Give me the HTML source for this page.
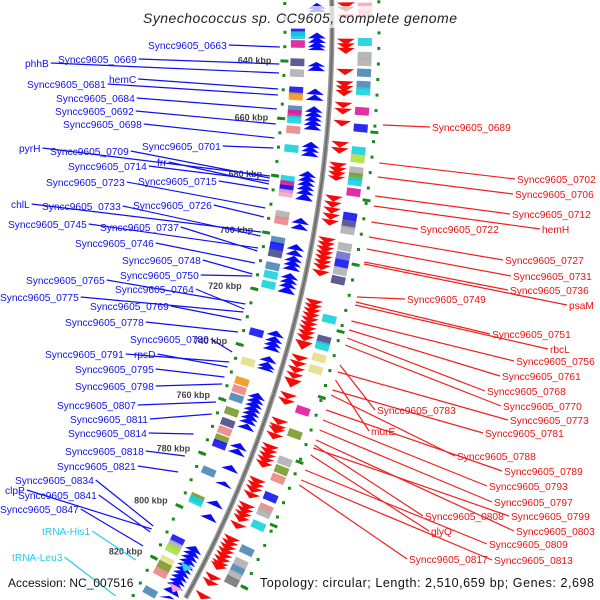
<!DOCTYPE html>
<html><head><meta charset="utf-8"><style>
html,body{margin:0;padding:0;background:#fff;overflow:hidden;width:600px;height:600px;}
svg{display:block;font-family:"Liberation Sans","DejaVu Sans",sans-serif;overflow:hidden;}
</style></head><body>
<svg id="map" width="600" height="600" viewBox="0 0 600 600" xmlns="http://www.w3.org/2000/svg">
<g id="rings"></g>
<g id="leaders"></g>
<g id="labels"></g>
<rect x="140" y="6" width="322" height="22" fill="#fff" opacity="0.72"/>
<text x="300" y="23" text-anchor="middle" font-size="14" font-style="italic" fill="#222" textLength="314">Synechococcus sp. CC9605, complete genome</text>
<text x="8" y="587" font-size="12" fill="#111">Accession: NC_007516</text>
<text x="260" y="587" font-size="12.5" fill="#111" textLength="334">Topology: circular; Length: 2,510,659 bp; Genes: 2,698</text>
</svg>
<script>
// ---- data (kbp) ----
const tickKbp = [640,660,680,700,720,740,760,780,800,820];
const outerDashKbp = [662,684,705,727,749,771,793,815,837];
const blueGeneStart = [620,621.5,630,631.5,633,634.5,640,641,649,651,655,656.5,658,659.5,661,667,668.5,670,677,678.5,680,681.5,683,684.5,693,695,702,704,706,707.5,709,712,713.5,715,716.5,732,734,735.5,737,741,743,744.5,754,755.5,757,758.5,760,761.5,763,765,772,774,780,786,793,798,810,811.5,813,814.5,816,817.5,819,820.5,822,823.5,825,829,830.5,832,833.5,835];
const blueGeneEnd   = [622,623,632,633.5,635,636,641.5,643,651,653,657,658.5,660,661.5,663,669,670.5,672,679,680.5,682,683.5,685,687,695,697,704,706,708,709.5,711,714,715.5,717,719,734,736,737.5,739,743,745,746,756,757.5,759,760.5,762,763.5,765,767,774,776,782,787.5,795,800,812,813.5,815,816.5,818,819.5,821,822.5,824,825.5,828,831,832.5,834,835.5,838];
const redGeneStart = [620,621.5,624,632,633.5,635,642,646,647.5,649,653,655,659,666,668,673,674.5,676,677.5,684,686,688,690,692,698,699.5,701,702.5,704,705.5,707,709,719,720.5,722,723.5,725,726.5,728,729.5,731,733,738,740,742,744,746,751,753,760,762,763,765,769,770.5,772,773.5,775,781,782.5,784,786,790,791.5,793,794.5,797,802,803.5,805,806.5,808,809.5,811,812,816,818,823,832,834,836];
const redGeneEnd   = [622,623,625.5,634,635.5,637,644,648,649.5,651,655,657,661,668,670,675,676.5,678,679,686,688,690,692,694,700,701.5,703,704.5,706,707.5,709,711,721,722.5,724,725.5,727,728.5,730,731.5,733,736,740,742,744,746,749,753,755,762,764,765,767,771,772.5,774,775.5,777,783,784.5,786,788,792,793.5,795,796.5,799,804,805.5,807,808.5,810,811.5,813,814,818,820,825,834,836,838];
const blueBoxKbp = [630,631,634,640.3,644,650,652,656.5,658,660,663.5,670,680.7,682.5,684,685.5,693,695,702,704,706.5,711,714,717.5,734.5,745,752,755,758,763,767,770,773,775,785,795,796,811,813,814.5,819,821,823.5,831,833];
const blueBoxColor = ["blue","cyan","magenta","slate","gray","blue","orange","steel","magenta","cyan","salmon","cyan","cyan","magenta","blue","pink","gray","salmon","steel","blue","slate","steel","cyan","cyan","blue","khaki","orange","salmon","steel","olive","slate","salmon","olive","blue","steel","olive","cyan","blue","gray","yellowgreen","khaki","olive","salmon","steel","blue"];
const redBoxKbp = [621.5,624,633,637.5,639.5,643,647,649,655.5,661,668.4,671,675,677,678.5,682,690,692.6,694.5,700,703,705.5,708,711,724,731,733,737,741,755,763,772.5,775.5,778.5,785,789,790.5,795,804,808.5,811,813,815,821,828,834];
const redBoxColor = ["pink","salmon","cyan","gray","gray","steel","steel","cyan","magenta","blue","cyan","yellowgreen","gray","olive","cyan","magenta","blue","slate","gray","gray","slateblue","blue","gray","slate","cyan","slate","cyan","khaki","khaki","magenta","olive","gray","olive","salmon","blue","salmon","gray","cyan","steel","gray","steel","gray","dimgray","olive","blue","olive"];
const rnaKbp = [818,826];
const rnaColor = ["#33ccee","#f4a0d0"];

// ---- geometry ----
const CX=-863, CY=25, R=1195;
const COLORS={blue:"#1414f0",cyan:"#18d2dc",magenta:"#e0189a",slate:"#4a4a8c",gray:"#b0b0b0",orange:"#f0961a",steel:"#4a86b8",salmon:"#ea8686",khaki:"#e4de8a",olive:"#7a9a2a",yellowgreen:"#a8e040",dimgray:"#777",pink:"#f6a6c6",slateblue:"#7070d0"};
function ang(k){return 0.0314+(k-640)*0.002506;}
function pt(k,r){const a=ang(k);return [CX+r*Math.cos(a), CY+r*Math.sin(a)];}
function ringX(y,r){return CX+Math.sqrt(r*r-(y-CY)*(y-CY));}
function inView(k,r){const p=pt(k,r);return p[1]>=-5 && p[1]<=598;}
const NS="http://www.w3.org/2000/svg";
const rings=document.getElementById('rings');
function mk(tag,attrs,parent){const e=document.createElementNS(NS,tag);for(const k in attrs)e.setAttribute(k,attrs[k]);(parent||rings).appendChild(e);return e;}
function P(a){return a.map(p=>p[0].toFixed(1)+","+(p[1]>0?Math.min(599.5,p[1]):p[1]).toFixed(1)).join(" ");}

// backbone
let d="",first=true;for(let k=612;k<=840;k+=1){if(!inView(k,R))continue;const p=pt(k,R);d+=(first?"M":"L")+p[0].toFixed(1)+","+p[1].toFixed(1);first=false;}
let bb=mk('path',{d:d,stroke:"#9a9a9a","stroke-width":5,fill:"none"});


let bb2=mk('path',{d:d,stroke:"#6e6e6e","stroke-width":2,fill:"none"});



// green dot rings
for(let k=615;k<=845;k+=5){
  [R-47,R+47].forEach((r,i)=>{if(!inView(k,r))return;const p=pt(k,r);
    const dot=mk('rect',{x:(p[0]-1.5).toFixed(1),y:(p[1]-1.5).toFixed(1),width:3,height:3,fill:"#1a8a1a"});
    
    });
}
tickKbp.forEach(k=>{
  if(!inView(k,R-47))return;
  const a=pt(k,R-51),b=pt(k,R-43);
  const t=mk('line',{x1:a[0],y1:a[1],x2:b[0],y2:b[1],stroke:"#1a8a1a","stroke-width":3});
  
  
  const q=pt(k,R-60);
  const lb=mk('text',{x:q[0].toFixed(1),y:(q[1]+3).toFixed(1),"text-anchor":"end","font-size":"9","font-weight":"bold",fill:"#444"});
  lb.textContent=k+" kbp";
  
  
});
outerDashKbp.forEach(k=>{
  if(!inView(k,R+47))return;
  const a=pt(k,R+43),b=pt(k,R+51);
  const t=mk('line',{x1:a[0],y1:a[1],x2:b[0],y2:b[1],stroke:"#1a8a1a","stroke-width":3});
  
  
});

// boxes
function box(k,r1,r2,col,name){
  const s=k-1.3,e=k+1.3;
  if(!inView(e,(r1+r2)/2))return;
  const b=mk('polygon',{points:P([pt(s,r1),pt(e,r1),pt(e,r2),pt(s,r2)]),fill:col,opacity:0.9});
  
  
}
blueBoxKbp.forEach((k,i)=>box(k,R-41,R-27,COLORS[blueBoxColor[i]],'reverse-strand-feature-box'));
redBoxKbp.forEach((k,i)=>box(k,R+26,R+40,COLORS[redBoxColor[i]],'forward-strand-feature-box'));

// genes (arrows)
blueGeneStart.forEach((s,i)=>{
  const e=blueGeneEnd[i];
  if(!inView(s,R-15))return;
  const g=mk('polygon',{points:P([pt(s,R-15),pt(e,R-24),pt(e,R-6)]),fill:"#0a0af5"});
  
  
});
redGeneStart.forEach((s,i)=>{
  const e=redGeneEnd[i];
  if(!inView(s,R+14))return;
  const g=mk('polygon',{points:P([pt(s,R+5),pt(s,R+23),pt(e,R+14)]),fill:"#f50a0a"});
  
  
});
rnaKbp.forEach((k,i)=>{
  if(!inView(k+1.5,R-14))return;
  const g=mk('polygon',{points:P([pt(k-1,R-21),pt(k-1,R-7),pt(k+1.5,R-14)]),fill:rnaColor[i]});
  
  
});

// ---- labels (layout annotations) ----
const leftLabels=[
["Syncc9605_0663",148,49,47],["phhB",25,67,73],["Syncc9605_0669",58,63,64],["Syncc9605_0681",27,88,95],["hemC",109,83,89],
["Syncc9605_0684",56,102,109],["Syncc9605_0692",55,115,124],["Syncc9605_0698",63,128,138],["Syncc9605_0701",142,150,148],
["pyrH",19,152,176],["Syncc9605_0709",50,155,178],["Syncc9605_0714",68,170,181],["frr",157,166,184],["Syncc9605_0723",46,186,208],
["Syncc9605_0715",138,185,189],["chlL",11,208,232],["Syncc9605_0733",42,210,236],["Syncc9605_0726",133,209,217],
["Syncc9605_0745",8,228,248],["Syncc9605_0737",100,231,251],["Syncc9605_0746",75,247,263],["Syncc9605_0748",122,264,274],
["Syncc9605_0750",120,279,276],["Syncc9605_0765",26,284,304],["Syncc9605_0764",115,293,309],["Syncc9605_0775",0,301,312],
["Syncc9605_0769",90,310,320],["Syncc9605_0778",65,326,332],["Syncc9605_0780",130,343,352],["Syncc9605_0791",45,358,362],
["rpsD",134,358,367],["Syncc9605_0795",75,373,377],["Syncc9605_0798",75,390,384],["Syncc9605_0807",57,409,402],
["Syncc9605_0811",70,423,414],["Syncc9605_0814",68,437,434],["Syncc9605_0818",65,455,456],["Syncc9605_0821",57,470,472],
["Syncc9605_0834",15,484,526],["clpP",5,494,529],["Syncc9605_0841",18,499,532],["Syncc9605_0847",0,513,546],
["tRNA-His1",42,535,560],["tRNA-Leu3",12,561,596]];
const rightLabels=[
["Syncc9605_0689",432,131,125],["Syncc9605_0702",517,183,163],["Syncc9605_0706",515,198,177],["Syncc9605_0712",512,218,196],
["Syncc9605_0722",420,233,222],["hemH",542,233,206],["Syncc9605_0727",505,264,237],["Syncc9605_0731",513,280,249],
["Syncc9605_0736",510,294,262],["psaM",569,309,264],["Syncc9605_0749",407,303,297],["Syncc9605_0751",492,338,302],
["rbcL",550,353,305],["Syncc9605_0756",516,365,321],["Syncc9605_0761",502,380,330],["Syncc9605_0768",487,395,338],
["Syncc9605_0770",503,410,345],["Syncc9605_0783",377,414,365],["Syncc9605_0773",510,424,372],["murE",371,435,380],
["Syncc9605_0781",485,437,390],["Syncc9605_0788",457,460,395],["Syncc9605_0789",504,475,410],["Syncc9605_0793",489,490,420],
["Syncc9605_0797",494,506,430],["Syncc9605_0808",425,520,445],["Syncc9605_0799",511,520,448],["glyQ",431,535,455],
["Syncc9605_0803",516,535,440],["Syncc9605_0809",489,548,470],["Syncc9605_0817",409,563,485],["Syncc9605_0813",494,564,480]];
const labG=document.getElementById('labels'), leadG=document.getElementById('leaders');
leftLabels.forEach(L=>{
  const rna=L[0].startsWith("tRNA");
  const col=rna?"#22ccee":"#1010ee";
  const t=mk('text',{x:L[1],y:L[2],"font-size":"10.2",fill:col},labG);
  t.textContent=L[0];
  
  
  const w=t.getComputedTextLength();
  const r=L[3]>420?R-62:R-52;
  const ln=mk('line',{x1:L[1]+w+2,y1:L[2]-4,x2:ringX(L[3],r).toFixed(1),y2:L[3],stroke:col,"stroke-width":1.2},leadG);
  
  
});
rightLabels.forEach(L=>{
  const t=mk('text',{x:L[1],y:L[2],"font-size":"10.2",fill:"#ee1010"},labG);
  t.textContent=L[0];
  
  
  const ln=mk('line',{x1:ringX(L[3],R+55).toFixed(1),y1:L[3],x2:L[1]-2,y2:L[2]-4,stroke:"#f02020","stroke-width":1.2},leadG);
  
  
});
</script>
</body></html>
